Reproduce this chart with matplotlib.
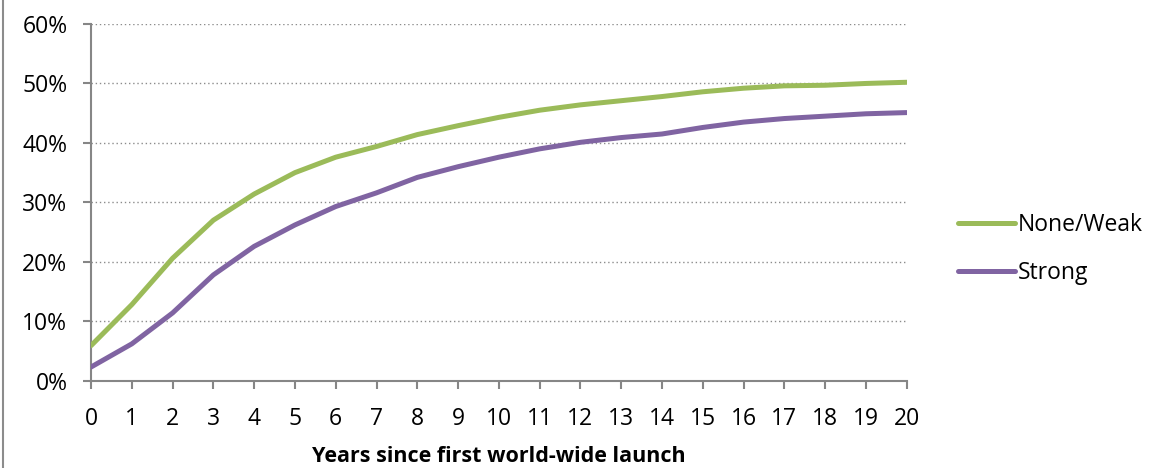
import matplotlib
matplotlib.use("Agg")
import matplotlib.pyplot as plt
from matplotlib.lines import Line2D
from matplotlib.ticker import PercentFormatter

plt.rcParams['font.family'] = ['Open Sans', 'DejaVu Sans']

years = list(range(0, 21))
none_weak = [5.9, 12.8, 20.6, 27.0, 31.4, 35.0, 37.6, 39.4, 41.4, 42.9, 44.3,
             45.5, 46.4, 47.1, 47.8, 48.6, 49.2, 49.6, 49.7, 50.0, 50.2]
strong = [2.3, 6.2, 11.4, 17.8, 22.6, 26.2, 29.3, 31.6, 34.2, 36.0, 37.6,
          39.0, 40.1, 40.9, 41.5, 42.6, 43.5, 44.1, 44.5, 44.9, 45.1]
series_names = ['None/Weak', 'Strong']
series_colors = ['#9BBB59', '#8064A2']

fig = plt.figure(figsize=(11.58, 4.68), dpi=100)
ax = fig.add_axes([0.0786, 0.1865, 0.7044, 0.7622])

for vals, name, col in zip([none_weak, strong], series_names, series_colors):
    ax.plot(years, vals, color=col, lw=3.6, label=name,
            solid_capstyle='round', solid_joinstyle='round', zorder=3)

ax.set_xlim(0, 20)
ax.set_ylim(0, 60)
ax.set_xticks(years)
ax.set_yticks(range(0, 61, 10))
ax.yaxis.set_major_formatter(PercentFormatter(decimals=0))

ax.grid(axis='y', color='#8c8c8c', linestyle=(0, (1, 2)), lw=1.0, zorder=0)
for s in ['top', 'right']:
    ax.spines[s].set_visible(False)
for s in ['left', 'bottom']:
    ax.spines[s].set_color('#868686')
    ax.spines[s].set_linewidth(1.5)

ax.tick_params(axis='both', colors='#868686', length=6, width=1.5,
               labelcolor='black', labelsize=16.5)
ax.tick_params(axis='x', pad=13)
ax.tick_params(axis='y', pad=11)

ax.set_xlabel('Years since first world-wide launch', fontsize=15.5,
              fontweight='bold', labelpad=11)

leg = ax.legend(loc='center left', bbox_to_anchor=(1.037, 0.369),
                frameon=False, fontsize=16.5, handlelength=2.5,
                handletextpad=0.15, labelspacing=1.05)

# thin frame line on the left edge of the figure
fig.add_artist(Line2D([0.0025, 0.0025], [0, 1], transform=fig.transFigure,
                      color='#8c8c8c', lw=1.5))

fig.savefig('out.png', dpi=100)
